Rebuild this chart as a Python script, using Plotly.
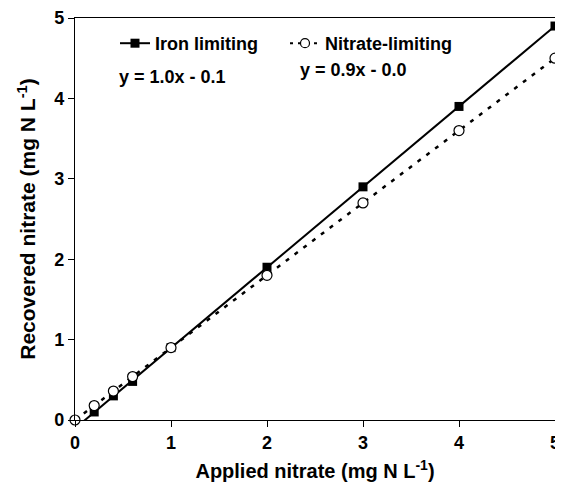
import numpy as np
import plotly.graph_objects as go

# Data
iron_x = [0.2, 0.4, 0.6, 1, 2, 3, 4, 5]
iron_y = [0.1, 0.3, 0.48, 0.9, 1.9, 2.9, 3.9, 4.9]
nitrate_x = [0, 0.2, 0.4, 0.6, 1, 2, 3, 4, 5]
nitrate_y = [0.0, 0.18, 0.36, 0.54, 0.9, 1.8, 2.7, 3.6, 4.5]
tick_vals = [0, 1, 2, 3, 4, 5]
eq_iron = "y = 1.0x - 0.1"
eq_nitrate = "y = 0.9x - 0.0"

FONT = "Liberation Sans, Arial, sans-serif"

# Linear fits (trend lines)
fi = np.polyfit(iron_x, iron_y, 1)
fn = np.polyfit(nitrate_x, nitrate_y, 1)
xs = np.array([0, 5])

fig = go.Figure()
fig.add_trace(go.Scatter(
    x=xs, y=np.polyval(fi, xs), mode="lines",
    line=dict(color="black", width=2), showlegend=False, hoverinfo="skip"))
fig.add_trace(go.Scatter(
    x=xs, y=np.polyval(fn, xs), mode="lines",
    line=dict(color="black", width=2.5, dash="4px,7px"), showlegend=False, hoverinfo="skip"))

fig.add_trace(go.Scatter(
    x=iron_x, y=iron_y, mode="markers", name="Iron limiting",
    marker=dict(symbol="square", size=9, color="black"), cliponaxis=False,
    showlegend=False))
fig.add_trace(go.Scatter(
    x=nitrate_x, y=nitrate_y, mode="markers", name="Nitrate-limiting",
    marker=dict(symbol="circle", size=10, color="white", line=dict(color="black", width=1.2)),
    cliponaxis=False, showlegend=False))

# legend entries
fig.add_trace(go.Scatter(
    x=[None], y=[None], mode="lines+markers", name="Iron limiting",
    line=dict(color="black", width=2),
    marker=dict(symbol="square", size=9, color="black")))
fig.add_trace(go.Scatter(
    x=[None], y=[None], mode="lines+markers", name="Nitrate-limiting",
    line=dict(color="black", width=2, dash="3px,5px"),
    marker=dict(symbol="circle", size=9, color="white", line=dict(color="black", width=1.2))))

fig.add_annotation(text=eq_iron, xref="paper", yref="paper",
                   x=(172 - 75) / 480, y=(420 - 77) / 402, showarrow=False,
                   xanchor="center", yanchor="middle",
                   font=dict(size=18, family=FONT, color="black", weight="bold"))
fig.add_annotation(text=eq_nitrate, xref="paper", yref="paper",
                   x=(353 - 75) / 480, y=(420 - 70) / 402, showarrow=False,
                   xanchor="center", yanchor="middle",
                   font=dict(size=18, family=FONT, color="black", weight="bold"))

axis_common = dict(
    showgrid=False, zeroline=False, showline=True, linecolor="black", linewidth=1.3,
    mirror=True, ticks="outside", ticklen=6, tickwidth=1.3, tickcolor="black",
    tickvals=tick_vals, automargin=False,
    tickfont=dict(size=18, family=FONT, color="black", weight="bold"),
)

# page body has an 8px margin, so the figure is sized to fit the 563x485 window
fig.update_layout(
    width=555, height=477,
    margin=dict(l=67, r=8, t=10, b=65),
    paper_bgcolor="white", plot_bgcolor="white",
    font=dict(family=FONT, color="black", weight="bold"),
    xaxis=dict(range=[0, 5], title=dict(text="Applied nitrate (mg N L<sup>-1</sup>)",
                                         font=dict(size=20, family=FONT, weight="bold"), standoff=12),
               **axis_common),
    yaxis=dict(range=[0, 5], title=dict(text="Recovered nitrate (mg N L<sup>-1</sup>)",
                                         font=dict(size=21, family=FONT, weight="bold"), standoff=12),
               **axis_common),
    legend=dict(orientation="h", x=(115 - 75) / 480, y=(420 - 25) / 402,
                xanchor="left", yanchor="top", bgcolor="rgba(0,0,0,0)",
                font=dict(size=18, family=FONT, color="black", weight="bold"),
                tracegroupgap=0, itemwidth=30, entrywidth=125),
)

fig.write_html("out.html")
